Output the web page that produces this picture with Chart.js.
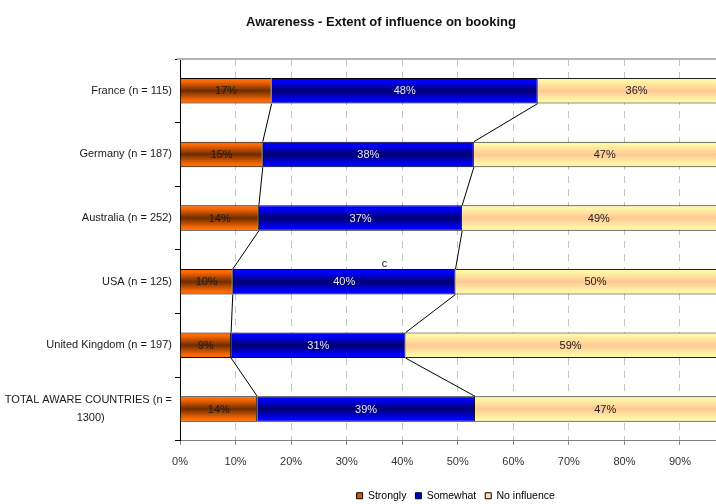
<!DOCTYPE html>
<html>
<head>
<meta charset="utf-8">
<title>Awareness - Extent of influence on booking</title>
<script src="https://cdn.jsdelivr.net/npm/chart.js@4.4.0/dist/chart.umd.min.js"></script>
<style>
  html, body { margin: 0; padding: 0; background: #fff; overflow: hidden; }
  #wrap { width: 716px; height: 504px; overflow: hidden; }
</style>
</head>
<body>
<div id="wrap"><canvas id="chart" width="762" height="511"></canvas></div>
<script>
// categories, top to bottom
var categories = [
    'France (n = 115)',
    'Germany (n = 187)',
    'Australia (n = 252)',
    'USA (n = 125)',
    'United Kingdom (n = 197)',
    ['TOTAL AWARE COUNTRIES (n =', '1300)                      ']
];
var seriesNames = ['Strongly', 'Somewhat', 'No influence'];
var strongly    = [16.5, 14.9, 14.2,  9.5,  9.2, 13.9];
var somewhat    = [47.9, 38.0, 36.6, 40.1, 31.4, 39.2];
var noInfluence = [35.6, 47.1, 49.2, 50.4, 59.4, 46.9];
var xTicks = [0, 10, 20, 30, 40, 50, 60, 70, 80, 90, 100];

// stray "c" mark above the USA bar
var noteText = 'c';
var noteCategory = 3;
var noteValue = 36.8;

Chart.defaults.font.family = "Arial, 'Liberation Sans', sans-serif";

var barPct = 0.4;

// vertical "cylinder" shading like the excel bars
function barFill(edge, mid) {
    return function(ctx) {
        var chart = ctx.chart;
        var y = chart.scales ? chart.scales.y : null;
        if (!y || ctx.type !== 'data') return mid;
        var cy = y.getPixelForValue(ctx.dataIndex);
        var half = y.height / categories.length * barPct / 2;
        if (!isFinite(cy) || !isFinite(half) || half <= 0) return mid;
        var g = chart.ctx.createLinearGradient(0, cy - half, 0, cy + half);
        g.addColorStop(0, edge);
        g.addColorStop(0.12, edge);
        g.addColorStop(0.5, mid);
        g.addColorStop(0.88, edge);
        g.addColorStop(1, edge);
        return g;
    };
}

var labelColors = ['#1a1a1a', '#e8e8f2', '#222222'];
var legendColors = ['#d85a00', '#0000cc', '#ffe2a8'];
var legendShift = 2;

var extras = {
    id: 'extras',
    beforeDraw: function(chart) {
        // title centred on the whole canvas, legend near the plot centre
        var ca = chart.chartArea, lg = chart.legend, tb = chart.titleBlock;
        tb.left = 0;
        tb.right = chart.width;
        lg.left = ca.left - legendShift;
        lg.right = ca.right - legendShift;
    },
    beforeDatasetsDraw: function(chart) {
        // grey top edge of the plot area
        var ca = chart.chartArea, c = chart.ctx;
        c.save();
        c.strokeStyle = '#b4b4b4';
        c.lineWidth = 2;
        c.beginPath();
        c.moveTo(ca.left - 3, ca.top);
        c.lineTo(ca.right, ca.top);
        c.stroke();
        c.restore();
    },
    afterDatasetsDraw: function(chart) {
        var c = chart.ctx;
        c.save();
        // series lines between the bars
        c.strokeStyle = '#000';
        c.lineWidth = 1;
        [0, 1].forEach(function(di) {
            var bars = chart.getDatasetMeta(di).data;
            for (var i = 0; i < bars.length - 1; i++) {
                var a = bars[i].getProps(['x', 'y', 'height'], true);
                var b = bars[i + 1].getProps(['x', 'y', 'height'], true);
                c.beginPath();
                c.moveTo(a.x, a.y + a.height / 2);
                c.lineTo(b.x, b.y - b.height / 2);
                c.stroke();
            }
        });
        // value labels
        c.font = "11px Arial, 'Liberation Sans', sans-serif";
        c.textAlign = 'center';
        c.textBaseline = 'middle';
        chart.data.datasets.forEach(function(ds, di) {
            chart.getDatasetMeta(di).data.forEach(function(bar, i) {
                var p = bar.getProps(['x', 'y', 'base'], true);
                c.fillStyle = labelColors[di];
                c.fillText(Math.round(ds.data[i]) + '%', (p.x + p.base) / 2, p.y + 0.5);
            });
        });
        // the "c"
        var xs = chart.scales.x, ys = chart.scales.y;
        c.fillStyle = '#222';
        c.fillText(noteText, xs.getPixelForValue(noteValue), ys.getPixelForValue(noteCategory) - 18);
        c.restore();
    }
};

var ctx = document.getElementById('chart').getContext('2d');
var chart = new Chart(ctx, {
    type: 'bar',
    data: {
        labels: categories,
        datasets: [{
            label: seriesNames[0],
            data: strongly,
            backgroundColor: barFill('#ff6a00', '#6e2c00'),
            borderColor: '#000',
            borderWidth: 1
        }, {
            label: seriesNames[1],
            data: somewhat,
            backgroundColor: barFill('#0000ff', '#000070'),
            borderColor: '#000',
            borderWidth: 1
        }, {
            label: seriesNames[2],
            data: noInfluence,
            backgroundColor: barFill('#fff6a6', '#ffc894'),
            borderColor: '#222',
            borderWidth: 1
        }]
    },
    options: {
        indexAxis: 'y',
        responsive: false,
        animation: false,
        events: [],
        layout: { padding: { left: 0, right: 26.5, top: 0, bottom: 0 } },
        datasets: { bar: { barPercentage: barPct, categoryPercentage: 1 } },
        scales: {
            x: {
                stacked: true,
                min: 0,
                max: 100,
                afterBuildTicks: function(s) {
                    s.ticks = xTicks.map(function(v) { return { value: v }; });
                },
                afterFit: function(s) { s.height += 1.5; },
                ticks: {
                    color: '#333',
                    font: { size: 11 },
                    padding: 11,
                    maxRotation: 0,
                    callback: function(v) { return v + '%'; }
                },
                grid: { color: '#c4c4c4', tickColor: '#808080', tickLength: 4,
                        borderDash: [7, 6], tickBorderDash: [] },
                border: { color: '#808080', width: 1, dash: [7, 6] }
            },
            y: {
                stacked: true,
                afterFit: function(s) { s.width = 180; },
                ticks: { color: '#1a1a1a', font: { size: 11, lineHeight: 1.65 }, padding: 3 },
                grid: { offset: true, drawOnChartArea: false, tickLength: 5, color: '#000' },
                border: { color: '#000', width: 1 }
            }
        },
        plugins: {
            title: {
                display: true,
                text: 'Awareness - Extent of influence on booking',
                color: '#111',
                font: { size: 13, weight: 'bold' },
                padding: { top: 15, bottom: 28.4 }
            },
            legend: {
                position: 'bottom',
                fullSize: false,
                labels: {
                    boxWidth: 6,
                    boxHeight: 6,
                    padding: 9,
                    color: '#222',
                    font: { size: 10.5 },
                    generateLabels: function() {
                        return seriesNames.map(function(n, i) {
                            return { text: n, fillStyle: legendColors[i], strokeStyle: '#000',
                                     lineWidth: 1, hidden: false, datasetIndex: i };
                        });
                    }
                }
            },
            tooltip: { enabled: false }
        }
    },
    plugins: [extras]
});
</script>
</body>
</html>
